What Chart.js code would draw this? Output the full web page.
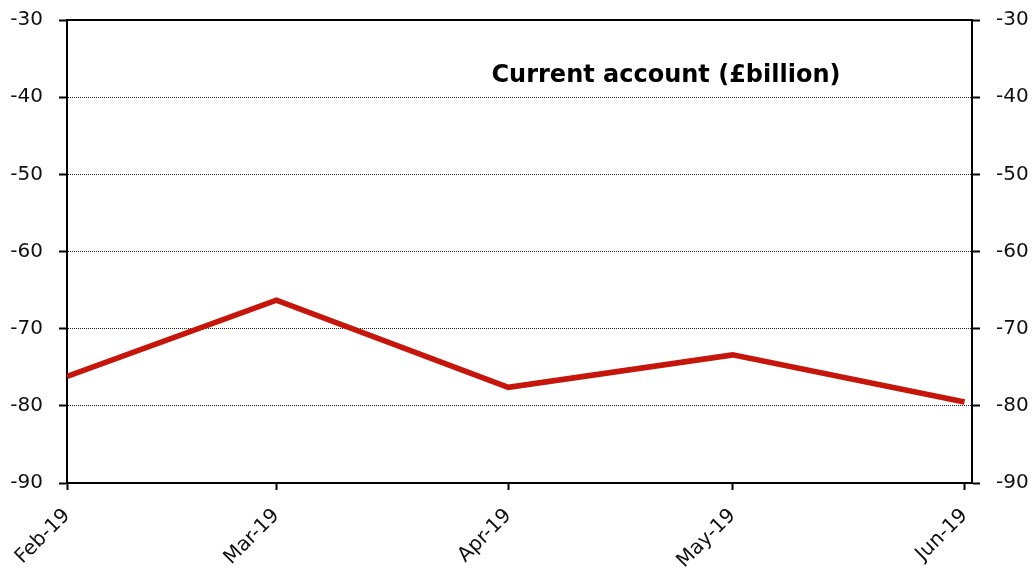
<!DOCTYPE html>
<html>
<head>
<meta charset="utf-8">
<script src="https://cdn.jsdelivr.net/npm/chart.js@4"></script>
<style>
  html, body { margin: 0; padding: 0; background: #fff; }
  #wrap { width: 1035px; height: 572px; }
</style>
</head>
<body>
<div id="wrap"><canvas id="chart" width="1035" height="572"></canvas></div>
<script>
// data
var months = ["Feb-19", "Mar-19", "Apr-19", "May-19", "Jun-19"];
var dayOffsets = [0, 28, 59, 89, 120]; // days since 1 Feb 2019
var currentAccount = [-76.2, -66.3, -77.6, -73.4, -79.5];
var yTicks = [-30, -40, -50, -60, -70, -80, -90];

var FONT = "'DejaVu Sans', 'Open Sans', sans-serif";

var points = dayOffsets.map(function (d, i) {
    return {x: d, y: currentAccount[i]};
});

// Title inside plot
var titlePlugin = {
    id: "innerTitle",
    afterDraw: function (chart) {
        var ctx = chart.ctx;
        ctx.save();
        ctx.font = "bold 24px " + FONT;
        ctx.fillStyle = "#000";
        ctx.textAlign = "center";
        ctx.textBaseline = "alphabetic";
        ctx.fillText("Current account (£billion)", 666, 82);
        ctx.restore();
    }
};

function yAxis(pos, width) {
    return {
        type: "linear",
        position: pos,
        min: -90,
        max: -30,
        afterBuildTicks: function (s) { s.ticks = yTicks.map(function (v) { return {value: v}; }); },
        afterFit: function (s) {
            s.width = width;
            s.paddingTop = 0;
            s.paddingBottom = 0;
        },
        ticks: {
            color: "#111",
            font: {family: FONT, size: 20},
            padding: 16
        },
        grid: {
            drawOnChartArea: pos === "left",
            color: function (c) {
                var v = c.tick && c.tick.value;
                return (v === -30 || v === -90) ? "rgba(0,0,0,0)" : "#222";
            },
            tickColor: "#000",
            tickLength: 8,
            lineWidth: 1,
            tickWidth: 2
        },
        border: {display: true, color: "#000", width: 2, dash: [1, 1]}
    };
}

new Chart(document.getElementById("chart").getContext("2d"), {
    type: "line",
    data: {
        datasets: [{
            label: "Current account (£billion)",
            data: points,
            borderColor: "#C6150B",
            borderWidth: 5.5,
            pointRadius: 0,
            tension: 0,
            fill: false
        }]
    },
    plugins: [titlePlugin],
    options: {
        responsive: false,
        animation: false,
        layout: {padding: {top: 20, left: 0, right: 0, bottom: 0}},
        plugins: {legend: {display: false}, title: {display: false}, tooltip: {enabled: false}},
        scales: {
            x: {
                type: "linear",
                min: 0,
                max: 121,
                afterBuildTicks: function (s) { s.ticks = dayOffsets.map(function (v) { return {value: v}; }); },
                afterFit: function (s) {
                    s.height = 89;
                    s.paddingLeft = 0;
                    s.paddingRight = 0;
                },
                ticks: {
                    color: "#111",
                    font: {family: FONT, size: 20},
                    minRotation: 45,
                    maxRotation: 45,
                    padding: 14,
                    callback: function (v) {
                        var i = dayOffsets.indexOf(v);
                        return i >= 0 ? months[i] : "";
                    }
                },
                grid: {drawOnChartArea: false, tickLength: 7, tickColor: "#000", tickWidth: 2},
                border: {display: true, color: "#000", width: 2}
            },
            xTop: {
                type: "linear",
                position: "top",
                min: 0,
                max: 121,
                ticks: {display: false},
                grid: {display: false},
                afterFit: function (s) { s.height = 0; },
                border: {display: true, color: "#000", width: 2}
            },
            y: yAxis("left", 67),
            y2: yAxis("right", 63)
        }
    }
});
</script>
</body>
</html>
